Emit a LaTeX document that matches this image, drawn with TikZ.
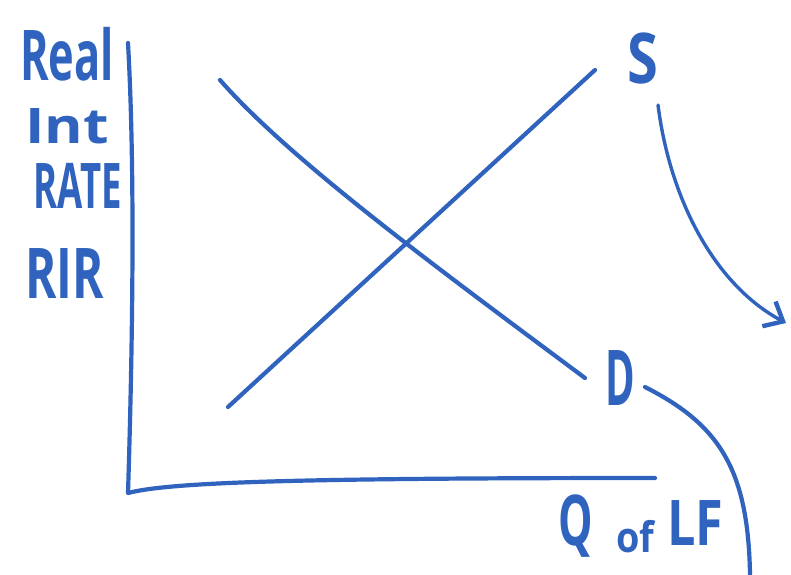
\documentclass[tikz,border=0pt]{standalone}
\usepackage{fontspec}
\setmainfont{Open Sans}
\usetikzlibrary{arrows.meta}
\definecolor{ink}{RGB}{47,99,190}
\tikzset{
  stroke/.style={draw=ink, line width=4.2pt, line cap=round, line join=round},
  lbl/.style={text=ink, inner sep=0pt, anchor=base west, font=\bfseries},
}
\newcommand{\hw}[3]{\fontsize{#1}{#1}\selectfont\scalebox{#2}[1]{#3}}
\begin{document}
\begin{tikzpicture}[x=1pt,y=-1pt]
\useasboundingbox[fill=white] (0,0) rectangle (791,574);
% axes
\coordinate (ytop) at (128,43);
\coordinate (origin) at (128,493);
\coordinate (xend) at (655,478);
\draw[stroke] (ytop) .. controls (134,150) and (134,300) .. (origin)
  .. controls (170,482) and (300,478) .. (xend);
% axis labels
\node[lbl] (real) at (20,80) {\hw{70}{0.62}{Real}};
\node[lbl] (int) at (25,143) {\hw{49}{1.2}{Int}};
\node[lbl] (rate) at (33,208) {\hw{63}{0.58}{RATE}};
\node[lbl] (rir) at (25,298) {\hw{70}{0.68}{RIR}};
\node[lbl] (q) at (558,545) {\hw{70}{0.62}{Q}};
\node[lbl] (of) at (616,552) {\hw{42}{0.9}{of}};
\node[lbl] (lf) at (667,545) {\hw{63}{0.8}{LF}};
% curves
\coordinate (d1) at (220,80);
\coordinate (d2) at (585,378);
\coordinate (s1) at (228,407);
\coordinate (s2) at (595,70);
\draw[stroke] (d1) .. controls (290,160) and (440,270) .. (d2);
\draw[stroke] (s1) -- (s2);
\node[lbl] (S) at (627,83) {\hw{70}{0.8}{S}};
\node[lbl] (D) at (605,405) {\hw{77}{0.52}{D}};
% shift arrows
\coordinate (a1) at (658,105);
\coordinate (a2) at (786,323);
\draw[stroke, line width=3.4pt, -{Straight Barb[length=16pt,width=28pt,line width=4.4pt]}]
  (a1) .. controls (670,200) and (715,285) .. (a2);
\coordinate (b1) at (645,387);
\coordinate (b2) at (750,574);
\draw[stroke] (b1) .. controls (720,425) and (748,470) .. (b2);
\end{tikzpicture}
\end{document}
